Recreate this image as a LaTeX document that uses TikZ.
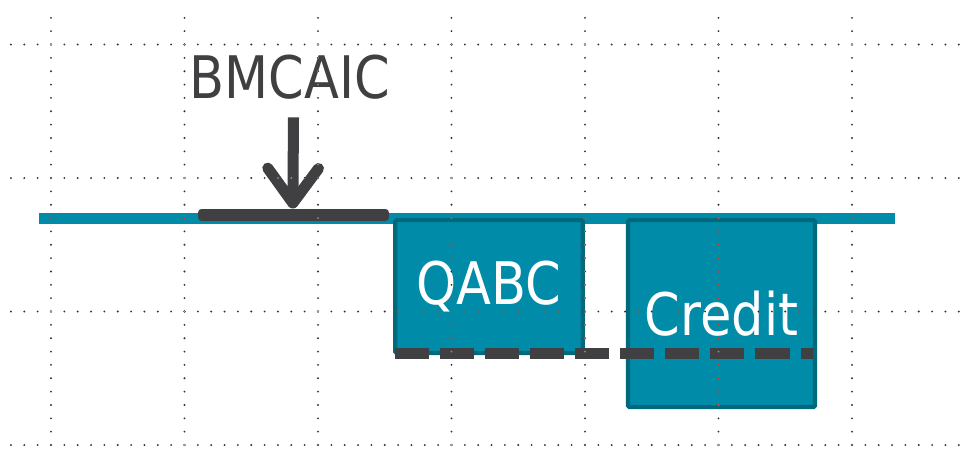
\documentclass[tikz,border=0pt]{standalone}
\usepackage{fontspec}
\setmainfont{DejaVu Sans}[FakeStretch=0.87]
\usetikzlibrary{arrows.meta,positioning,calc}
\definecolor{tealfill}{RGB}{0,140,168}
\definecolor{tealedge}{RGB}{0,106,124}
\definecolor{darkbar}{RGB}{64,64,66}
\tikzset{
    gridline/.style={draw=white!80!black, line width=0.9pt, line cap=round, dash pattern=on 0pt off 0.2cm},
    axis/.style={draw=tealfill, line width=0.16cm},
    block/.style={draw=tealedge, fill=tealfill, line width=1.8pt, rounded corners=0.6pt, text=white, font=\fontsize{25}{30}\selectfont},
    marker/.style={fill=darkbar, rounded corners=1.5pt, minimum width=2.86cm, minimum height=0.18cm, inner sep=0pt},
    pointer/.style={draw=darkbar, line width=0.165cm, -{Straight Barb[round, length=0.52cm, width=0.76cm]}},
    level/.style={draw=darkbar, line width=0.165cm, dash pattern=on 0.51cm off 0.165cm},
    caption/.style={text=darkbar, font=\fontsize{25}{30}\selectfont, inner sep=0pt},
}
\begin{document}
\begin{tikzpicture}[scale=1]
    \fill[white] (-0.764,-0.120) rectangle (13.693,6.667);

    % Teal base line
    \coordinate (axisL) at (-0.18,3.39);
    \coordinate (axisR) at (12.64,3.39);
    \draw[axis] (axisL) -- (axisR);

    % Boxes below the line
    \node[block, minimum width=2.81cm, minimum height=1.99cm, anchor=north west] (qabc) at (5.124,3.401) {QABC};
    \node[block, minimum width=2.80cm, minimum height=2.80cm, anchor=north west] (credit) at (8.614,3.401) {Credit};

    % Dashed level
    \draw[level] ($(qabc.south west)+(0.03,0.03)$) -- ($(credit.east |- qabc.south)+(-0.06,0.03)$);

    % Marker with its pointer
    \node[marker] (bar) at (3.633,3.446) {};
    \node[caption, anchor=base] (bmcaic) at (3.58,5.198) {BMCAIC};
    \draw[pointer] ([yshift=-0.27cm]bmcaic.south -| bar.north) -- ([xshift=-0.01cm]bar.north);

    % Dotted grid
    \begin{scope}[blend mode=difference]
        \foreach \x in {0,2,...,12}
            \draw[gridline] (\x,0) -- (\x,6.4);
        \foreach \y in {0,2,4,6}
            \draw[gridline] (-0.6,\y) -- (13.6,\y);
    \end{scope}
\end{tikzpicture}
\end{document}
